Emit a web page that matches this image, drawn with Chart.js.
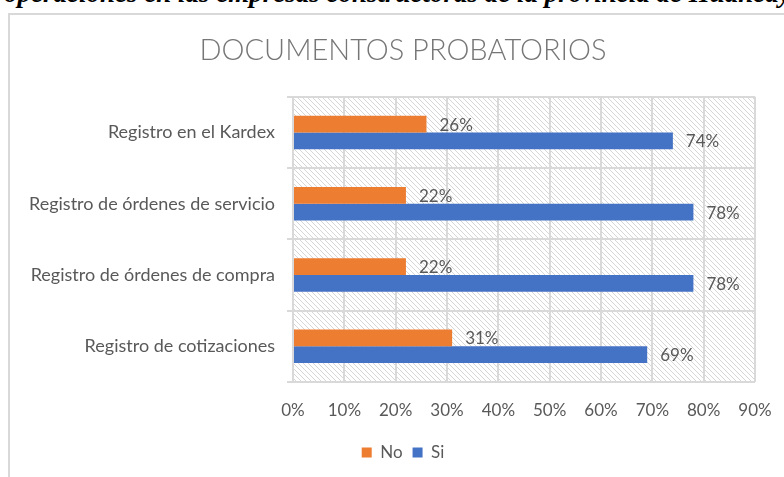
<!DOCTYPE html>
<html>
<head>
<meta charset="utf-8">
<script src="https://cdn.jsdelivr.net/npm/chart.js@4/dist/chart.umd.min.js"></script>
<style>
  body { margin: 0; background: #fff; }
  #wrap { position: relative; width: 784px; height: 477px; overflow: hidden; }
  #caption {
    position: absolute; left: 4px; top: -20px; white-space: nowrap;
    font: italic bold 27px/26px "Liberation Serif", serif; color: #000;
  }
  #frame {
    position: absolute; left: 8px; top: 13px; width: 820px; height: 500px;
    border: 2px solid #d9d9d9;
  }
  canvas { position: absolute; left: 0; top: 0; }
</style>
</head>
<body>
<div id="wrap">
  <div id="caption">operaciones en las empresas constructoras de la provincia de Huancayo</div>
  <div id="frame"></div>
  <canvas id="chart" width="784" height="477"></canvas>
</div>
<script>
const categories = ['Registro en el Kardex', 'Registro de órdenes de servicio', 'Registro de órdenes de compra', 'Registro de cotizaciones'];
const noValues = [26, 22, 22, 31];
const siValues = [74, 78, 78, 69];
const seriesNames = ['No', 'Si'];
const titleText = 'DOCUMENTOS PROBATORIOS';

// light diagonal hatch for the plot area
function makeHatch(ctx) {
    const c = document.createElement('canvas');
    c.width = 5; c.height = 5;
    const g = c.getContext('2d');
    g.fillStyle = '#ffffff';
    g.fillRect(0, 0, 5, 5);
    g.strokeStyle = '#d6d6d6';
    g.lineWidth = 1;
    g.beginPath();
    g.moveTo(-1, -1); g.lineTo(6, 6);
    g.moveTo(-1, 4); g.lineTo(1, 6);
    g.moveTo(4, -1); g.lineTo(6, 1);
    g.stroke();
    return ctx.createPattern(c, 'repeat');
}

const hatchPlugin = {
    id: 'hatch',
    beforeDraw(chart) {
        const { ctx, chartArea: a } = chart;
        ctx.save();
        ctx.fillStyle = makeHatch(ctx);
        ctx.fillRect(a.left, a.top, a.right - a.left, a.bottom - a.top);
        ctx.restore();
    }
};

// title and legend are centred over the frame, not over the whole canvas
const centrePlugin = {
    id: 'centre',
    afterLayout(chart) {
        chart.titleBlock.left = 51;
        chart.legend.left = 51;
    }
};

const labelPlugin = {
    id: 'barLabels',
    afterDatasetsDraw(chart) {
        const ctx = chart.ctx;
        ctx.save();
        ctx.font = '17px Lato';
        ctx.fillStyle = '#595959';
        ctx.textAlign = 'left';
        ctx.textBaseline = 'middle';
        chart.data.datasets.forEach((ds, i) => {
            chart.getDatasetMeta(i).data.forEach((bar, j) => {
                ctx.fillText(ds.data[j] + '%', bar.x + 13, bar.y + 1);
            });
        });
        ctx.restore();
    }
};

new Chart(document.getElementById('chart'), {
    type: 'bar',
    data: {
        labels: categories,
        datasets: [
            { label: seriesNames[0], data: noValues, backgroundColor: '#ED7D31' },
            { label: seriesNames[1], data: siValues, backgroundColor: '#4472C4' }
        ]
    },
    options: {
        indexAxis: 'y',
        responsive: false,
        animation: false,
        barPercentage: 1,
        categoryPercentage: 0.47,
        layout: { padding: { left: 0, right: 29, top: 19, bottom: 6 } },
        scales: {
            x: {
                min: 0,
                max: 90,
                ticks: {
                    stepSize: 10,
                    callback: v => v + '%',
                    color: '#595959',
                    font: { family: 'Lato', size: 17, lineHeight: 1.9 },
                    padding: 12
                },
                grid: { color: '#d9d9d9', lineWidth: 2, drawTicks: false },
                border: { display: false },
                afterFit(scale) { scale.height = 52; }
            },
            y: {
                ticks: {
                    color: '#595959',
                    font: { family: 'Lato', size: 18 },
                    padding: 12
                },
                grid: { offset: true, color: '#d9d9d9', lineWidth: 2, tickLength: 6 },
                border: { color: '#d9d9d9', width: 2 },
                afterFit(scale) { scale.width = 293; }
            }
        },
        plugins: {
            title: {
                display: true,
                text: titleText,
                color: '#767676',
                font: { family: 'Lato', size: 29, weight: '300' },
                padding: { top: 14, bottom: 29 }
            },
            legend: {
                position: 'bottom',
                labels: {
                    boxWidth: 10,
                    boxHeight: 10,
                    color: '#595959',
                    font: { family: 'Lato', size: 17 },
                    padding: 10
                }
            },
            tooltip: { enabled: false }
        }
    },
    plugins: [hatchPlugin, centrePlugin, labelPlugin]
});
</script>
</body>
</html>
